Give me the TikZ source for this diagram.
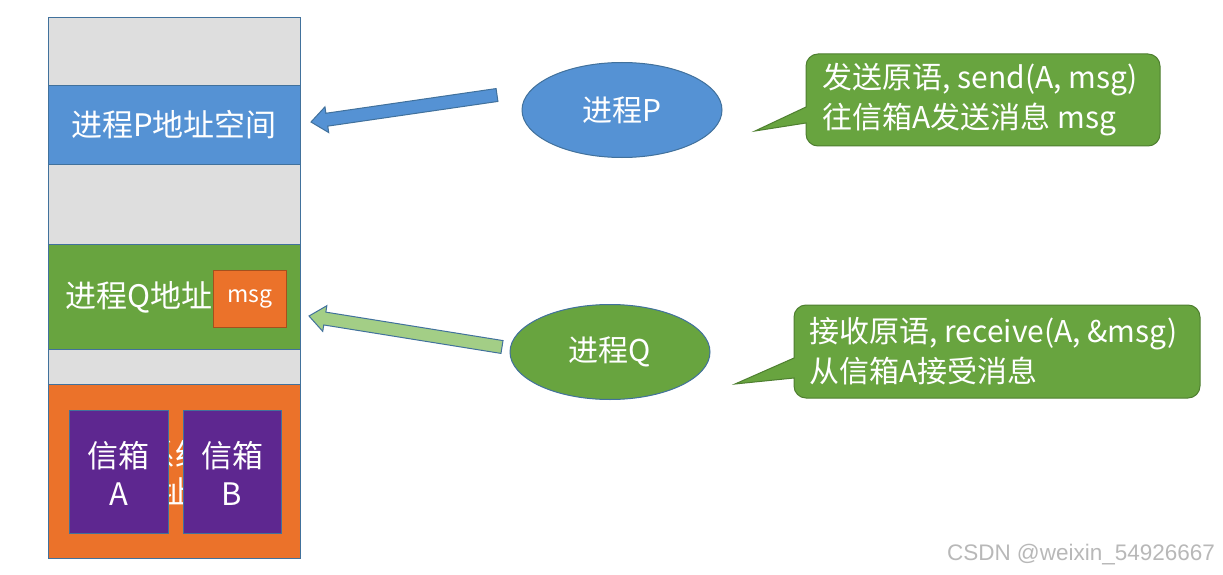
\documentclass[tikz,border=0pt]{standalone}
\usepackage{fontspec}
\newfontfamily\cjk{Noto Sans CJK SC}
\newfontfamily\wmfont{Liberation Sans}
\usetikzlibrary{calc,shapes.geometric}
\definecolor{memgray}{HTML}{DEDEDE}
\definecolor{pblue}{HTML}{5592D4}
\definecolor{qgreen}{HTML}{68A43F}
\definecolor{korange}{HTML}{EB722A}
\definecolor{boxpurple}{HTML}{5E2790}
\definecolor{lgreen}{HTML}{A3CE86}
\definecolor{edgeblue}{HTML}{41719C}
\definecolor{edgegreen}{HTML}{4E7F30}
\tikzset{
	seg/.style={draw=edgeblue,line width=1},
	txt/.style={text=white,font=\cjk\fontsize{31}{38}\selectfont},
	ctxt/.style={text=white,font=\cjk\fontsize{30}{40}\selectfont},
	mbox/.style={draw=edgeblue,line width=1,fill=boxpurple},
	proc/.style={ellipse,draw=edgeblue,line width=1,minimum width=200,minimum height=95,ctxt},
	callout/.style={fill=qgreen,draw=edgegreen,line width=1},
	barrow/.style={draw=edgeblue,line width=1},
}
% block arrow from tail #1 to tip #2
\newcommand{\blockarrow}[3]{%
	\coordinate (hb) at ($(#2)!16pt!(#1)$);
	\draw[barrow,#3] ($(#1)!6.5pt!90:(#2)$) -- ($(hb)!6.5pt!-90:(#1)$) -- ($(hb)!13pt!-90:(#1)$) -- (#2)
		-- ($(hb)!13pt!90:(#1)$) -- ($(hb)!6.5pt!90:(#1)$) -- ($(#1)!6.5pt!-90:(#2)$) -- cycle;
}
\begin{document}
\begin{tikzpicture}[x=1pt,y=-1pt]
		\useasboundingbox[fill=white] (0,0) rectangle (1223,575);
		% memory column
		\draw[seg,fill=memgray] (48,18) rectangle (300,86);
		\draw[seg,fill=pblue] (48,86) rectangle (300,164);
		\draw[seg,fill=memgray] (48,164) rectangle (300,244);
		\draw[seg,fill=qgreen] (48,244) rectangle (300,349);
		\draw[seg,fill=memgray] (48,349) rectangle (300,384);
		\draw[seg,fill=korange] (48,384) rectangle (300,558);
		\node[txt] (pspace) at (174,125) {进程P地址空间};
		\node[txt,anchor=west] (qspace) at (62,297) {进程Q地址};
		\node[txt] (kernel1) at (175,455) {操作系统内核};
		\node[txt] (kernel2) at (190,492) {地址空间};
		\node[draw=korange!70!black,line width=1,fill=korange,minimum width=73,minimum height=57,txt,font=\cjk\fontsize{23}{26}\selectfont] (msg) at (250,298.5) {msg};
		% mailboxes
		\draw[mbox] (69,410) rectangle (168,533);
		\draw[mbox] (183,410) rectangle (281,533);
		\node[txt,align=center] (boxA) at (118.5,473) {信箱\\A};
		\node[txt,align=center] (boxB) at (232,473) {信箱\\B};
		% processes
		\node[proc,fill=pblue] (procP) at (622,110) {进程P};
		\node[proc,fill=qgreen] (procQ) at (610,352) {进程Q};
		\coordinate (Pt) at (497,95);
		\coordinate (Ph) at (311,122);
		\coordinate (Qt) at (502,347);
		\coordinate (Qh) at (309,316);
		\blockarrow{Pt}{Ph}{fill=pblue}
		\blockarrow{Qt}{Qh}{fill=lgreen}
		% callouts
		\draw[callout] (806,123) [rounded corners=12] -- (806,146) -- (1160,146) -- (1160,54) -- (806,54) -- (806,80)
			[sharp corners] -- (806,107) -- (755,131) -- cycle;
		\node[ctxt,align=left,anchor=west] (sendtxt) at (819,100) {发送原语, send(A, msg)\\往信箱A发送消息 msg};
		\draw[callout] (794,378) [rounded corners=12] -- (794,398) -- (1200,398) -- (1200,305) -- (794,305) -- (794,330)
			[sharp corners] -- (794,358) -- (735,384) -- cycle;
		\node[ctxt,align=left,anchor=west] (recvtxt) at (806,351) {接收原语, receive(A, \&msg)\\从信箱A接受消息};
		\node[text=black!28,font=\wmfont\fontsize{22.5}{26}\selectfont] (mark) at (1081,555) {CSDN @weixin\_54926667};
	\end{tikzpicture}
\end{document}
